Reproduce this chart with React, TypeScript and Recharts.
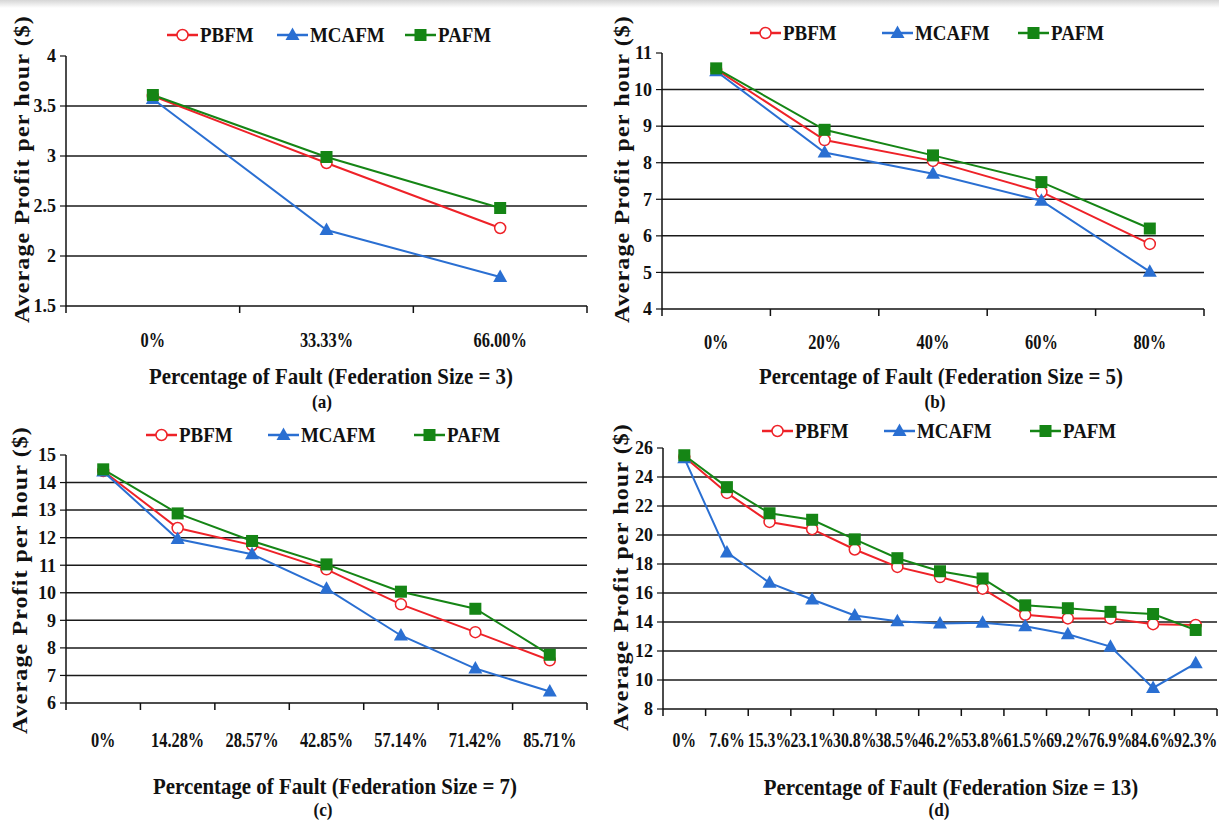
import React from 'react';
import { LineChart, Line, XAxis, YAxis, CartesianGrid, Legend } from 'recharts';

const FONT = '"Liberation Serif", "Times New Roman", serif';

const SERIES = ['PBFM', 'MCAFM', 'PAFM'];
const COLORS: Record<string, string> = { PBFM: '#ee2228', MCAFM: '#2a6fd2', PAFM: '#158515' };
const MARKERS: Record<string, string> = { PBFM: 'circle', MCAFM: 'triangle', PAFM: 'square' };

// (a) Federation Size = 3
const catsA = ['0%', '33.33%', '66.00%'];
const pbfmA = [3.6, 2.93, 2.28];
const mcafmA = [3.57, 2.26, 1.79];
const pafmA = [3.61, 2.99, 2.48];
const ticksA = [1.5, 2, 2.5, 3, 3.5, 4];

// (b) Federation Size = 5
const catsB = ['0%', '20%', '40%', '60%', '80%'];
const pbfmB = [10.55, 8.62, 8.05, 7.2, 5.78];
const mcafmB = [10.5, 8.28, 7.7, 6.96, 5.02];
const pafmB = [10.58, 8.9, 8.2, 7.47, 6.2];
const ticksB = [4, 5, 6, 7, 8, 9, 10, 11];

// (c) Federation Size = 7
const catsC = ['0%', '14.28%', '28.57%', '42.85%', '57.14%', '71.42%', '85.71%'];
const pbfmC = [14.42, 12.35, 11.73, 10.85, 9.58, 8.57, 7.55];
const mcafmC = [14.4, 11.95, 11.4, 10.15, 8.45, 7.25, 6.42];
const pafmC = [14.48, 12.88, 11.88, 11.03, 10.04, 9.42, 7.75];
const ticksC = [6, 7, 8, 9, 10, 11, 12, 13, 14, 15];

// (d) Federation Size = 13
const catsD = ['0%', '7.6%', '15.3%', '23.1%', '30.8%', '38.5%', '46.2%', '53.8%', '61.5%', '69.2%', '76.9%', '84.6%', '92.3%'];
const pbfmD = [25.4, 22.9, 20.9, 20.4, 19.0, 17.8, 17.1, 16.3, 14.5, 14.25, 14.25, 13.85, 13.8];
const mcafmD = [25.3, 18.8, 16.7, 15.55, 14.45, 14.05, 13.9, 13.95, 13.7, 13.15, 12.3, 9.45, 11.15];
const pafmD = [25.5, 23.3, 21.5, 21.05, 19.7, 18.4, 17.5, 17.0, 15.15, 14.95, 14.7, 14.55, 13.45];
const ticksD = [8, 10, 12, 14, 16, 18, 20, 22, 24, 26];

const Y_TITLE = 'Average Profit per hour ($)';

type Panel = {
  cats: string[];
  values: number[][];
  ticks: number[];
  xTitle: string;
  sub: string;
  box: { left: number; top: number; width: number; height: number };
  margin: { top: number; right: number; bottom: number; left: number };
  yw: number;
  xFont: number;
  xScale: number;
  xGap: number;
  legendX: number[];
  legendY: number;
  yTitlePos: [number, number];
  xTitlePos: [number, number];
  subPos: [number, number];
};

const panels: Panel[] = [
  {
    cats: catsA, values: [pbfmA, mcafmA, pafmA], ticks: ticksA,
    xTitle: 'Percentage of Fault (Federation Size = 3)', sub: '(a)',
    box: { left: 0, top: 0, width: 600, height: 410 },
    margin: { top: 56, right: 13, bottom: 103, left: 0 }, yw: 66,
    xFont: 20, xScale: 0.82, xGap: 34,
    legendX: [167, 277, 405], legendY: 35,
    yTitlePos: [22, 169], xTitlePos: [331, 376], subPos: [322, 401],
  },
  {
    cats: catsB, values: [pbfmB, mcafmB, pafmB], ticks: ticksB,
    xTitle: 'Percentage of Fault (Federation Size = 5)', sub: '(b)',
    box: { left: 600, top: 0, width: 619, height: 410 },
    margin: { top: 53, right: 15, bottom: 100, left: 0 }, yw: 62,
    xFont: 20, xScale: 0.82, xGap: 33,
    legendX: [750, 882, 1018], legendY: 33,
    yTitlePos: [622, 169], xTitlePos: [941, 376], subPos: [935, 401],
  },
  {
    cats: catsC, values: [pbfmC, mcafmC, pafmC], ticks: ticksC,
    xTitle: 'Percentage of Fault (Federation Size = 7)', sub: '(c)',
    box: { left: 0, top: 410, width: 600, height: 410 },
    margin: { top: 45, right: 13, bottom: 116, left: 0 }, yw: 66,
    xFont: 20, xScale: 0.82, xGap: 37,
    legendX: [146, 268, 414], legendY: 435,
    yTitlePos: [20, 580], xTitlePos: [335, 786], subPos: [323, 809],
  },
  {
    cats: catsD, values: [pbfmD, mcafmD, pafmD], ticks: ticksD,
    xTitle: 'Percentage of Fault (Federation Size = 13)', sub: '(d)',
    box: { left: 600, top: 410, width: 619, height: 410 },
    margin: { top: 38, right: 2, bottom: 110, left: 0 }, yw: 63,
    xFont: 20, xScale: 0.79, xGap: 31,
    legendX: [762, 884, 1030], legendY: 431,
    yTitlePos: [621, 577], xTitlePos: [951, 787], subPos: [939, 809],
  },
];

// Category tick: label at the band centre, tick marks at the band boundaries
const XTick = (props: any) => {
  const { x, y, payload, fs, sx, gap, count } = props;
  const half = payload && typeof payload.offset === 'number' ? payload.offset : 0;
  const idx = payload ? payload.index : 0;
  return (
    <g>
      <line x1={x - half} x2={x - half} y1={y} y2={y + 7} stroke="#111" strokeWidth={1.5} />
      {idx === count - 1 && (
        <line x1={x + half} x2={x + half} y1={y} y2={y + 7} stroke="#111" strokeWidth={1.5} />
      )}
      <text
        transform={`translate(${x},${y + gap}) scale(${sx},1)`}
        textAnchor="middle"
        dy="0.35em"
        fontSize={fs}
        fontWeight="bold"
        fontFamily={FONT}
        fill="#111"
      >
        {payload.value}
      </text>
    </g>
  );
};

const YTick = (props: any) => {
  const { x, y, payload } = props;
  return (
    <text
      x={x}
      y={y}
      textAnchor="end"
      dy="0.35em"
      fontSize={18}
      fontWeight="bold"
      fontFamily={FONT}
      fill="#111"
    >
      {payload.value}
    </text>
  );
};

const Marker = ({ kind, cx, cy, color }: { kind: string; cx: number; cy: number; color: string }) => {
  if (kind === 'circle') {
    return <circle cx={cx} cy={cy} r={5.5} fill="#fff" stroke={color} strokeWidth={1.5} />;
  }
  if (kind === 'triangle') {
    return <polygon points={`${cx},${cy - 7.5} ${cx - 7},${cy + 5} ${cx + 7},${cy + 5}`} fill={color} />;
  }
  return <rect x={cx - 6} y={cy - 6} width={12} height={12} fill={color} />;
};

const makeDot = (name: string) => (p: any) => {
  const { cx, cy, index } = p;
  if (cx == null || cy == null) return <g key={`d-${name}-${index}`} />;
  return (
    <g key={`d-${name}-${index}`}>
      <Marker kind={MARKERS[name]} cx={cx} cy={cy} color={COLORS[name]} />
    </g>
  );
};

const makeLegend = (legendX: number[]) => (props: any) => {
  const payload: any[] = (props && props.payload) || [];
  const ordered = SERIES.map((s) => payload.find((e: any) => e.value === s)).filter(Boolean);
  return (
    <div style={{ position: 'relative', width: 420, height: 26 }}>
      {ordered.map((entry: any, i: number) => {
        const name = entry.value as string;
        const color = COLORS[name] || entry.color;
        return (
          <div
            key={name}
            style={{
              position: 'absolute',
              left: legendX[i] - legendX[0],
              top: 0,
              height: 26,
              display: 'flex',
              alignItems: 'center',
              whiteSpace: 'nowrap',
            }}
          >
            <svg width={31} height={18} style={{ display: 'block' }}>
              <line x1={0} y1={9} x2={31} y2={9} stroke={color} strokeWidth={2.5} />
              <Marker kind={MARKERS[name]} cx={15.5} cy={9} color={color} />
            </svg>
            <span
              style={{
                display: 'inline-block',
                marginLeft: 2,
                fontFamily: FONT,
                fontWeight: 'bold',
                fontSize: 22,
                lineHeight: '26px',
                color: '#111',
                transform: 'scaleX(0.86)',
                transformOrigin: 'left center',
              }}
            >
              {name}
            </span>
          </div>
        );
      })}
    </div>
  );
};

const textBase: React.CSSProperties = {
  position: 'absolute',
  fontFamily: FONT,
  fontWeight: 'bold',
  color: '#111',
  whiteSpace: 'nowrap',
  lineHeight: 1,
};

const PanelChart = ({ p }: { p: Panel }) => {
  const data = p.cats.map((c, i) => ({
    cat: c,
    PBFM: p.values[0][i],
    MCAFM: p.values[1][i],
    PAFM: p.values[2][i],
  }));
  const n = p.cats.length;
  const gridVals = p.ticks.slice(1, -1);
  const dMin = p.ticks[0];
  const dMax = p.ticks[p.ticks.length - 1];
  return (
    <div style={{ position: 'absolute', left: p.box.left, top: p.box.top, width: p.box.width, height: p.box.height }}>
      <LineChart width={p.box.width} height={p.box.height} data={data} margin={p.margin}>
        <CartesianGrid
          xAxisId="c"
          vertical={false}
          horizontalValues={gridVals}
          stroke="#1a1a1a"
          strokeWidth={1.5}
        />
        <XAxis
          xAxisId="c"
          dataKey="cat"
          type="category"
          scale="band"
          interval={0}
          tickLine={false}
          tickSize={0}
          tickMargin={0}
          axisLine={{ stroke: '#111', strokeWidth: 1.5 }}
          tick={<XTick fs={p.xFont} sx={p.xScale} gap={p.xGap} count={n} />}
          height={1}
        />
        <YAxis
          type="number"
          domain={[dMin, dMax]}
          ticks={p.ticks}
          interval={0}
          width={p.yw}
          tickSize={6}
          tickMargin={4}
          tickLine={{ stroke: '#111', strokeWidth: 1.2 }}
          axisLine={{ stroke: '#111', strokeWidth: 1.5 }}
          tick={<YTick />}
        />
        <Legend
          verticalAlign="middle"
          align="center"
          layout="horizontal"
          content={makeLegend(p.legendX)}
          wrapperStyle={{
            left: p.legendX[0] - p.box.left,
            top: p.legendY - p.box.top - 13,
            width: 420,
            height: 26,
          }}
        />
        {SERIES.map((s) => (
          <Line
            key={s}
            xAxisId="c"
            type="linear"
            dataKey={s}
            name={s}
            stroke={COLORS[s]}
            strokeWidth={2}
            dot={makeDot(s)}
            activeDot={false}
            isAnimationActive={false}
          />
        ))}
      </LineChart>
      <div
        style={{
          ...textBase,
          left: p.yTitlePos[0] - p.box.left,
          top: p.yTitlePos[1] - p.box.top,
          fontSize: 24,
          letterSpacing: 1.1,
          transform: 'translate(-50%,-50%) rotate(-90deg) scaleY(0.86)',
        }}
      >
        {Y_TITLE}
      </div>
      <div
        style={{
          ...textBase,
          left: p.xTitlePos[0] - p.box.left,
          top: p.xTitlePos[1] - p.box.top,
          fontSize: 24,
          transform: 'translate(-50%,-50%) scaleX(0.87)',
        }}
      >
        {p.xTitle}
      </div>
      <div
        style={{
          ...textBase,
          left: p.subPos[0] - p.box.left,
          top: p.subPos[1] - p.box.top,
          fontSize: 19,
          transform: 'translate(-50%,-50%) scaleX(0.9)',
        }}
      >
        {p.sub}
      </div>
    </div>
  );
};

export default function App() {
  return (
    <div style={{ position: 'absolute', left: 0, top: 0, width: 1219, height: 820, background: '#fff', overflow: 'hidden' }}>
      <div style={{ position: 'absolute', left: 0, top: 0, width: 1219, height: 8, background: 'linear-gradient(#d6d6d6, #ffffff)' }} />
      {panels.map((p, i) => (
        <PanelChart key={i} p={p} />
      ))}
    </div>
  );
}
